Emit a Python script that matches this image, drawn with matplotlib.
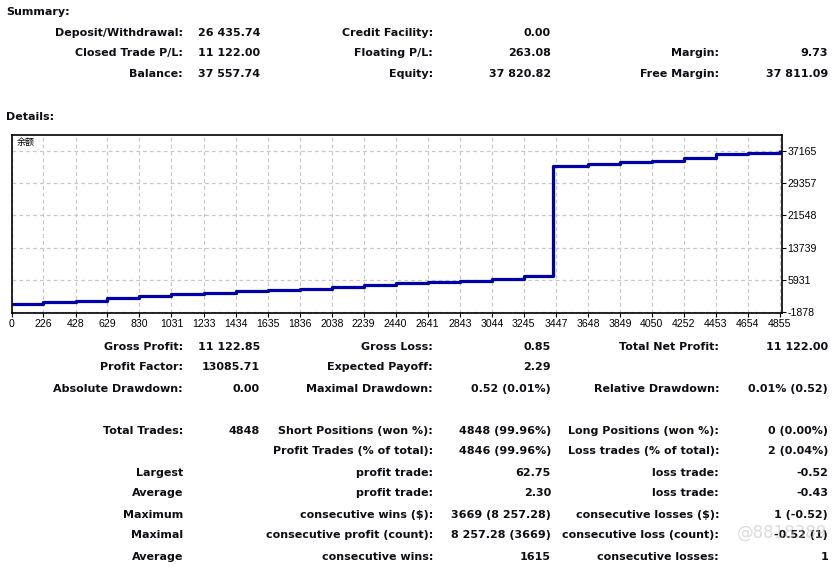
import matplotlib
matplotlib.use("Agg")
import matplotlib.pyplot as plt

W, H = 840, 566

# summary block
summary_rows = [
    ("Deposit/Withdrawal:", "26 435.74", "Credit Facility:", "0.00", "", ""),
    ("Closed Trade P/L:", "11 122.00", "Floating P/L:", "263.08", "Margin:", "9.73"),
    ("Balance:", "37 557.74", "Equity:", "37 820.82", "Free Margin:", "37 811.09"),
]

# details block
detail_rows = [
    ("Gross Profit:", "11 122.85", "Gross Loss:", "0.85", "Total Net Profit:", "11 122.00"),
    ("Profit Factor:", "13085.71", "Expected Payoff:", "2.29", "", ""),
    ("Absolute Drawdown:", "0.00", "Maximal Drawdown:", "0.52 (0.01%)", "Relative Drawdown:", "0.01% (0.52)"),
    None,
    ("Total Trades:", "4848", "Short Positions (won %):", "4848 (99.96%)", "Long Positions (won %):", "0 (0.00%)"),
    ("", "", "Profit Trades (% of total):", "4846 (99.96%)", "Loss trades (% of total):", "2 (0.04%)"),
    ("Largest", "", "profit trade:", "62.75", "loss trade:", "-0.52"),
    ("Average", "", "profit trade:", "2.30", "loss trade:", "-0.43"),
    ("Maximum", "", "consecutive wins ($):", "3669 (8 257.28)", "consecutive losses ($):", "1 (-0.52)"),
    ("Maximal", "", "consecutive profit (count):", "8 257.28 (3669)", "consecutive loss (count):", "-0.52 (1)"),
    ("Average", "", "consecutive wins:", "1615", "consecutive losses:", "1"),
]

# balance curve (trade number, balance)
trade_no = [0, 226, 428, 629, 830, 1031, 1233, 1434, 1635, 1836, 2038, 2239,
            2440, 2641, 2843, 3044, 3245, 3430, 3648, 3849, 4050, 4252, 4453,
            4654, 4855]
balance = [110, 490, 830, 1460, 2110, 2430, 2670, 3150, 3490, 3800, 4210, 4600,
           5080, 5450, 5740, 6150, 6780, 33530, 34080, 34490, 34730, 35460, 36420,
           36740, 37400]

x_ticks = [0, 226, 428, 629, 830, 1031, 1233, 1434, 1635, 1836, 2038, 2239,
           2440, 2641, 2843, 3044, 3245, 3447, 3648, 3849, 4050, 4252, 4453,
           4654, 4855]
y_ticks = [-1878, 5931, 13739, 21548, 29357, 37165]

plt.rcParams["font.family"] = ["DejaVu Sans"]

fig = plt.figure(figsize=(W / 100, H / 100), dpi=100)


def put(x, y, s, ha="right", **kw):
    fig.text(x / W, 1 - y / H, s, ha=ha, va="center", fontsize=8,
             fontweight="bold", color="#0d0d14", **kw)


col_x = [183, 260, 433, 551, 719, 828]

put(6, 12, "Summary:", ha="left")
for row, y in zip(summary_rows, [33, 53, 74]):
    for s, x in zip(row, col_x):
        if s:
            put(x, y, s)

put(6, 117, "Details:", ha="left")
y = 346.5
for row in detail_rows:
    if row is not None:
        for s, x in zip(row, col_x):
            if s:
                put(x, y, s)
    y += 21

# balance chart
left, right, top, bottom = 11.7, 781.7, 134.7, 313
ax = fig.add_axes([left / W, 1 - bottom / H, (right - left) / W, (bottom - top) / H])
ax.plot(trade_no, balance, drawstyle="steps-post", color="#0000aa", lw=2.3,
        solid_capstyle="butt")
ax.set_xlim(27, 4866)
ax.set_ylim(-2090, 41100)

xpos = [max(v, 27) for v in x_ticks]
ax.set_xticks(xpos)
ax.set_xticklabels([str(v) for v in x_ticks], fontsize=7.6, family="Liberation Sans")
ax.set_yticks(y_ticks)
ax.set_yticklabels([str(v) for v in y_ticks], fontsize=7.6, family="Liberation Sans")
ax.yaxis.tick_right()
ax.tick_params(axis="both", length=3, width=0.8, pad=1.2, colors="black")
ax.grid(True, color="#c8c8c8", ls=(0, (3, 2.5)), lw=0.9)
for sp in ax.spines.values():
    sp.set_linewidth(1.2)
    sp.set_color("black")

ax.text(0.006, 0.955, "余额", transform=ax.transAxes, fontsize=6.5,
        family=["Noto Sans CJK SC", "DejaVu Sans"], va="center", ha="left")

# faint watermark
fig.text(737 / W, 1 - 533 / H, "@8818389", fontsize=12, color="#b8b8b8",
         alpha=0.5, ha="left", va="center")

fig.savefig("out.png", dpi=100)
